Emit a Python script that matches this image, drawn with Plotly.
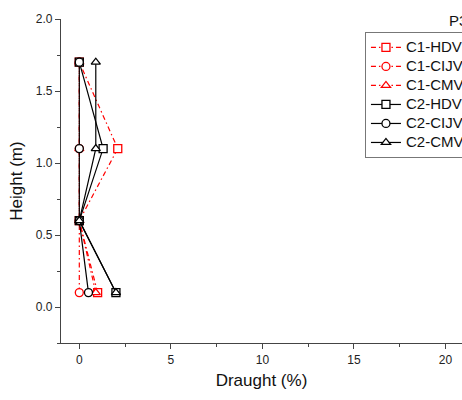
import plotly.graph_objects as go

heights = [0.1, 0.6, 1.1, 1.7]
c1_hdv = [1.0, 0.0, 2.1, 0.0]
c1_cijv = [0.0, 0.0, 0.0, 0.0]
c1_cmv = [0.9, 0.0, 0.0, 0.0]
c2_hdv = [2.0, 0.0, 1.3, 0.0]
c2_cijv = [0.5, 0.0, 0.0, 0.0]
c2_cmv = [2.0, 0.0, 0.9, 0.9]

series = [
    ("C1-HDV", c1_hdv, "square", "red", "5px,3px,1.5px,3px"),
    ("C1-CIJV", c1_cijv, "circle", "red", "5px,3px,1.5px,3px"),
    ("C1-CMV", c1_cmv, "triangle-up", "red", "5px,3px,1.5px,3px"),
    ("C2-HDV", c2_hdv, "square", "black", "solid"),
    ("C2-CIJV", c2_cijv, "circle", "black", "solid"),
    ("C2-CMV", c2_cmv, "triangle-up", "black", "solid"),
]

FONT = "Liberation Sans, Arial"

fig = go.Figure()
for name, xs, sym, col, dash in series:
    fig.add_trace(go.Scatter(
        x=xs, y=heights, mode="lines+markers",
        name='<span style="font-size:15px">' + name + '</span>',
        line=dict(color=col, width=1.2, dash=dash),
        marker=dict(symbol=sym, size=8, color="white", line=dict(width=1.3, color=col)),
    ))

axis_common = dict(
    showgrid=False, zeroline=False, showline=True, linecolor="#444", linewidth=1.3,
    ticks="outside", ticklen=5, tickwidth=1.2, tickcolor="#444",
    tickfont=dict(family=FONT, size=12, color="#222"),
    minor=dict(ticks="outside", ticklen=3, tickwidth=1, tickcolor="#444"),
)

fig.update_xaxes(range=[-1, 20.9], tickvals=[0, 5, 10, 15, 20], **axis_common)
fig.update_xaxes(minor_dtick=2.5, minor_tick0=0,
                 title=dict(text="Draught (%)", font=dict(family=FONT, size=17, color="#111"), standoff=8))
fig.update_yaxes(range=[-0.25, 2.0], tickvals=[0.0, 0.5, 1.0, 1.5, 2.0], tickformat=".1f", **axis_common)
fig.update_yaxes(minor_dtick=0.25, minor_tick0=0,
                 title=dict(text="Height (m)", font=dict(family=FONT, size=17, color="#111"), standoff=8))

fig.add_annotation(text="P3", xref="paper", yref="paper", x=0.963, y=0.994,
                   xanchor="left", yanchor="middle", showarrow=False,
                   font=dict(family=FONT, size=15, color="#111"))

fig.update_layout(
    width=462, height=400,
    margin=dict(l=61, r=0, t=19, b=57, autoexpand=False),
    plot_bgcolor="white", paper_bgcolor="white",
    legend=dict(x=0.758, y=0.96, xanchor="left", yanchor="top",
                bordercolor="#777", borderwidth=1, bgcolor="white",
                font=dict(family=FONT, size=12, color="#111"),
                tracegroupgap=0, itemwidth=30),
    showlegend=True,
)

fig.write_html("out.html")
